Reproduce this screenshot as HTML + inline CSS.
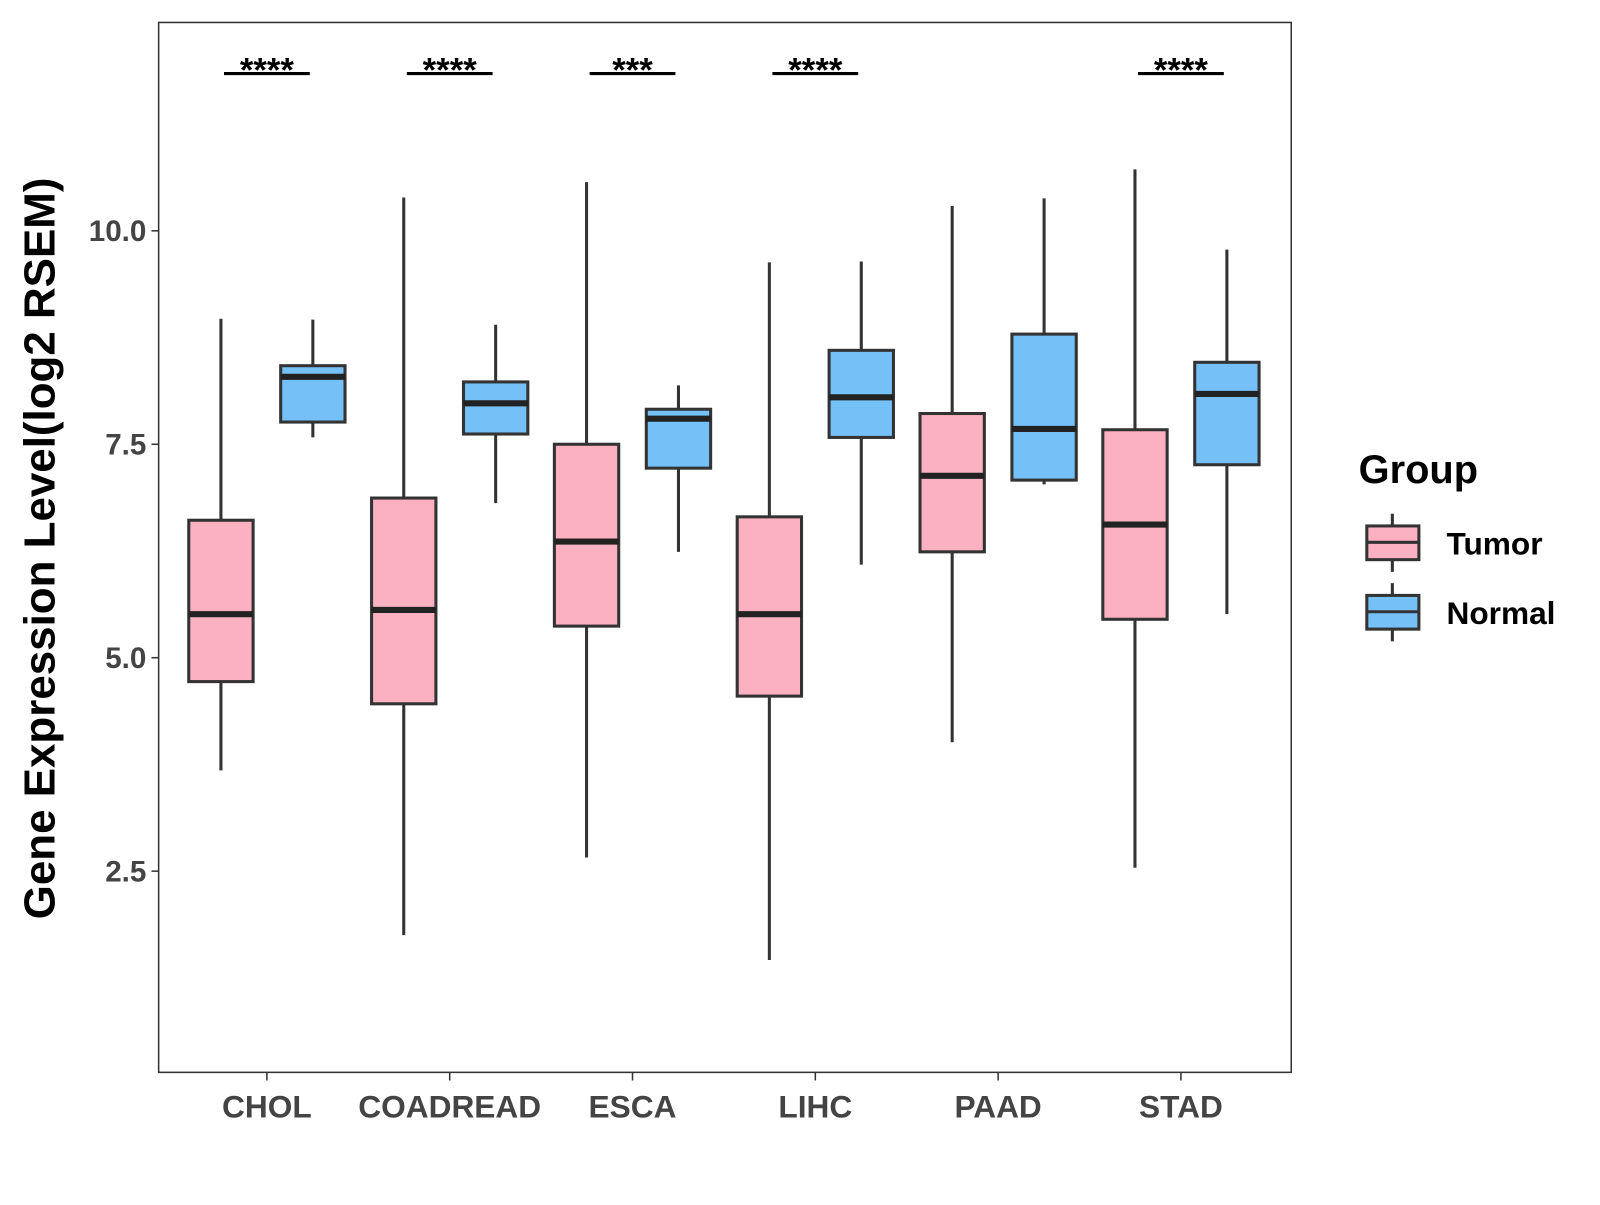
<!DOCTYPE html>
<html><head><meta charset="utf-8"><style>
body{margin:0;background:#fff}
svg text{font-family:"Liberation Sans",Arial,sans-serif}
</style></head><body>
<svg id="chart" width="1600" height="1200" viewBox="0 0 1566 1175">
<rect x="0" y="0" width="1600" height="1200" fill="#fff"/>
<rect x="155" y="22" width="1109" height="1028" fill="none" stroke="#333" stroke-width="1.5"/>
<g id="marks"></g>
<text transform="translate(53,537) rotate(-90)" text-anchor="middle" font-size="43" font-weight="bold" fill="#000">Gene Expression Level(log2 RSEM)</text>
<g>
<text x="1330" y="473" font-size="39" font-weight="bold">Group</text>
<g>
<line x1="1363" y1="503" x2="1363" y2="560" stroke="#333" stroke-width="3"/>
<rect x="1338" y="515" width="51" height="33" fill="#FBB1C2" stroke="#333" stroke-width="3"/>
<line x1="1338" y1="531" x2="1389" y2="531" stroke="#333" stroke-width="3"/>
<text x="1416" y="543" font-size="31" font-weight="bold">Tumor</text></g>
<g>
<line x1="1363" y1="571" x2="1363" y2="628" stroke="#333" stroke-width="3"/>
<rect x="1338" y="583" width="51" height="33" fill="#75C1F7" stroke="#333" stroke-width="3"/>
<line x1="1338" y1="599" x2="1389" y2="599" stroke="#333" stroke-width="3"/>
<text x="1416" y="611" font-size="31" font-weight="bold">Normal</text></g>
</g>
</svg>
<script>
const categories=["CHOL","COADREAD","ESCA","LIHC","PAAD","STAD"];
const sigLabels=["****","****","***","****","","****"];
const tumorLow=[3.68,1.75,2.66,1.46,4.01,2.54];
const tumorQ1=[4.72,4.46,5.37,4.55,6.24,5.45];
const tumorMed=[5.51,5.56,6.36,5.51,7.13,6.56];
const tumorQ3=[6.61,6.87,7.50,6.65,7.86,7.67];
const tumorHigh=[8.97,10.39,10.57,9.63,10.29,10.72];
const normalLow=[7.58,6.81,6.24,6.09,7.03,5.51];
const normalQ1=[7.76,7.62,7.22,7.58,7.08,7.26];
const normalMed=[8.29,7.98,7.80,8.05,7.68,8.09];
const normalQ3=[8.42,8.23,7.91,8.60,8.79,8.46];
const normalHigh=[8.96,8.90,8.19,9.64,10.38,9.78];
const yTicks=[2.5,5.0,7.5,10.0];
const yTickLabels=["2.5","5.0","7.5","10.0"];
const NS="http://www.w3.org/2000/svg";
const g=document.getElementById('marks');
function y(v){return 226+(10-v)*83.6;}
function x(i){return 261+i*179;}
function mk(tag,attrs,parent){const e=document.createElementNS(NS,tag);for(const k in attrs)e.setAttribute(k,attrs[k]);(parent||g).appendChild(e);return e;}
yTicks.forEach((t,i)=>{
 const tk=mk('line',{x1:148,x2:155,y1:y(t),y2:y(t),stroke:'#333','stroke-width':1.5});
 
 
 const tx=mk('text',{x:143,y:y(t)+10,'text-anchor':'end','font-size':29,'font-weight':'bold',fill:'#444'});
 tx.textContent=yTickLabels[i];
 
 
});
function box(cx,lo,q1,med,q3,hi,fill,name){
 const gg=mk('g',{});
 
 
 mk('line',{x1:cx,x2:cx,y1:y(hi),y2:y(lo),stroke:'#333','stroke-width':3},gg);
 mk('rect',{x:cx-31.5,y:y(q3),width:63,height:y(q1)-y(q3),fill:fill,stroke:'#333','stroke-width':3},gg);
 mk('line',{x1:cx-31.5,x2:cx+31.5,y1:y(med),y2:y(med),stroke:'#222','stroke-width':6},gg);
}
categories.forEach((c,i)=>{
 const cx=x(i);
 box(cx-45,tumorLow[i],tumorQ1[i],tumorMed[i],tumorQ3[i],tumorHigh[i],'#FBB1C2','box-tumor-'+c.toLowerCase());
 box(cx+45,normalLow[i],normalQ1[i],normalMed[i],normalQ3[i],normalHigh[i],'#75C1F7','box-normal-'+c.toLowerCase());
 const tk=mk('line',{x1:cx,x2:cx,y1:1050,y2:1058,stroke:'#333','stroke-width':1.5});
 
 
 const tx=mk('text',{x:cx,y:1094,'text-anchor':'middle','font-size':31,'font-weight':'bold',fill:'#444'});
 tx.textContent=c;
 
 
 if(sigLabels[i]){
  const sl=mk('line',{x1:cx-42,x2:cx+42,y1:72,y2:72,stroke:'#000','stroke-width':3});
  
  
  const st=mk('text',{x:cx,y:80,'text-anchor':'middle','font-size':34,'font-weight':'bold',fill:'#000'});
  st.textContent=sigLabels[i];
  
  
 }
});
</script>
</body></html>
